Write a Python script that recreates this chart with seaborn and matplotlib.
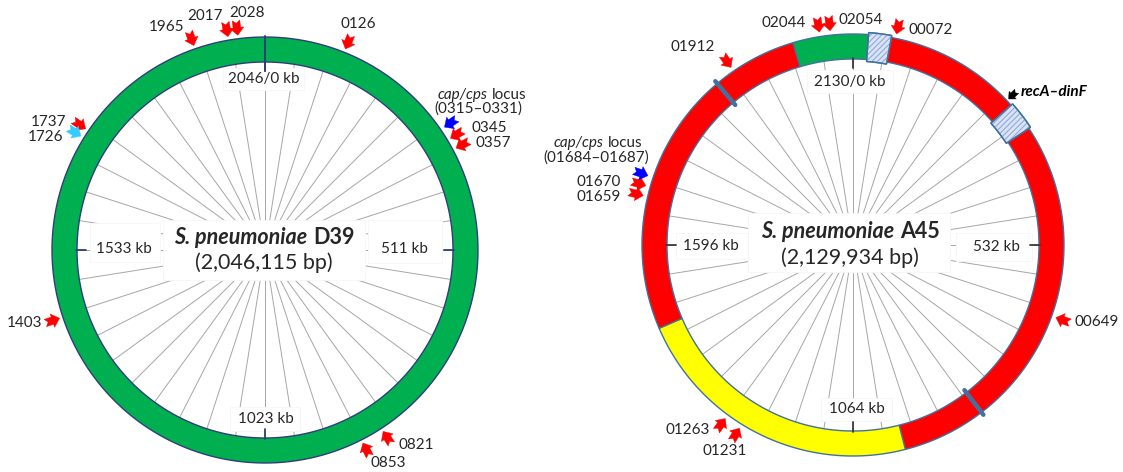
import numpy as np
import matplotlib
matplotlib.use("Agg")
import matplotlib.pyplot as plt
import seaborn as sns
from matplotlib.patches import Polygon, Rectangle

sns.set_theme(style="white")
plt.rcParams['font.family'] = ['Lato', 'DejaVu Sans']
plt.rcParams['hatch.linewidth'] = 0.8

# ---------------- data ----------------
d39_size_kb = 2046
d39_tick_labels = ["2046/0 kb", "511 kb", "1023 kb", "1533 kb"]
d39_gene_labels = ["0126", "0345", "0357", "0821", "0853", "1403", "1737", "1726", "1965", "2017", "2028"]
d39_gene_kb = [124, 335, 352, 835, 870, 1430, 1728, 1715, 1937, 1990, 2005]
d39_gene_kind = ["red", "red", "red", "red", "red", "red", "red", "cyan", "red", "red", "red"]
d39_cap_kb = 316

a45_size_kb = 2130
a45_tick_labels = ["2130/0 kb", "532 kb", "1064 kb", "1596 kb"]
a45_gene_labels = ["00072", "00649", "01231", "01263", "01659", "01670", "01912", "02044", "02054"]
a45_gene_kb = [69, 649, 1253, 1280, 1676, 1692, 1926, 2077, 2094]
a45_cap_kb = 1708
a45_recA_kb = 277
# ring segments (start kb, end kb, kind)
a45_seg_start = [2032, 62, 334, 980, 1460]
a45_seg_end = [25 + 2130, 287, 980, 1460, 2032]
a45_seg_kind = ["green", "red", "red", "yellow", "red"]
a45_hatch_start = [25, 287]
a45_hatch_end = [62, 334]
a45_marker_kb = [843, 1893]

# ---------------- layout ----------------
W, H = 1123, 472
fig = plt.figure(figsize=(W / 100, H / 100), dpi=100)
ax = fig.add_axes([0, 0, 1, 1])
ax.set_xlim(0, W)
ax.set_ylim(H, 0)
ax.set_aspect('equal')
ax.axis('off')
renderer = fig.canvas.get_renderer()

TXT = '#262626'
FS = 11
FT = 15.5
COL = {"red": "#FF0000", "green": "#00B050", "yellow": "#FFFF00",
       "cyan": "#33CCFF", "blue": "#0000FF", "black": "#000000"}


def polar(cx, cy, r, a):
    t = np.deg2rad(a)
    return cx + r * np.sin(t), cy - r * np.cos(t)


def arc_poly(cx, cy, r1, r2, a1, a2, n=120):
    ang = np.linspace(a1, a2, n)
    outer = [polar(cx, cy, r2, a) for a in ang]
    inner = [polar(cx, cy, r1, a) for a in ang[::-1]]
    return np.array(outer + inner)


def arrow(cx, cy, r, a, color, scale=1.0):
    t = np.deg2rad(a)
    u = np.array([-np.sin(t), np.cos(t)])   # inward
    v = np.array([np.cos(t), np.sin(t)])
    loc = np.array([(7.5, 0), (0, 7), (0, 3.8), (-7.5, 3.8), (-4.5, 0),
                    (-7.5, -3.8), (0, -3.8), (0, -7)]) * scale
    px, py = polar(cx, cy, r, a)
    pts = [(px + p * u[0] + q * v[0], py + p * u[1] + q * v[1]) for p, q in loc]
    ax.add_patch(Polygon(pts, closed=True, facecolor=color, edgecolor=color,
                         lw=0.3, zorder=6))


def mixed(x, y, parts, fs, ha='center', gap=None, color=TXT):
    texts, widths = [], []
    for s, kw in parts:
        t = ax.text(0, y, s, fontsize=fs, va='center', ha='left', color=color,
                    zorder=8, **kw)
        widths.append(t.get_window_extent(renderer=renderer).width)
        texts.append(t)
    if gap is None:
        gap = 0.27 * fs * 100 / 72
    total = sum(widths) + gap * (len(parts) - 1)
    x0 = x - total / 2 if ha == 'center' else x
    for t, w in zip(texts, widths):
        t.set_x(x0)
        x0 += w + gap


def white_box(x0, y0, x1, y1):
    ax.add_patch(Rectangle((x0, y0), x1 - x0, y1 - y0, facecolor='white',
                           edgecolor='#F6F6F6', lw=0.6, zorder=4))


def label(x, y, s, fs=FS, **kw):
    ax.text(x, y, s, fontsize=fs, ha='center', va='center', color=TXT, zorder=8, **kw)


def spokes(cx, cy, r_in, dark):
    for k in range(40):
        a = k * 9
        x1, y1 = polar(cx, cy, r_in, a)
        x2, y2 = polar(cx, cy, 28, a)
        ax.plot([x1, x2], [y1, y2], color='#A6A6A6', lw=0.7, zorder=2)
    for a in (0, 90, 180, 270):
        x1, y1 = polar(cx, cy, r_in + 1, a)
        x2, y2 = polar(cx, cy, r_in - 9, a)
        ax.plot([x1, x2], [y1, y2], color=dark, lw=1.3, zorder=5)


# ================= left: D39 =================
cx1, cy1, ri1, ro1 = 265, 250, 188, 213
EDGE1 = '#2F3E7A'
spokes(cx1, cy1, ri1, EDGE1)
ax.add_patch(Polygon(arc_poly(cx1, cy1, ri1, ro1, 0, 360, 400), closed=True,
                     facecolor=COL["green"], edgecolor='none', zorder=3))
th = np.linspace(0, 360, 400)
for r in (ri1, ro1):
    pts = np.array([polar(cx1, cy1, r, a) for a in th])
    ax.plot(pts[:, 0], pts[:, 1], color=EDGE1, lw=1.0, zorder=3.5)
x1, y1 = polar(cx1, cy1, ro1 + 1, 0)
x2, y2 = polar(cx1, cy1, ri1 - 9, 0)
ax.plot([x1, x2], [y1, y2], color=EDGE1, lw=1.4, zorder=5)

for kb, kind in zip(d39_gene_kb, d39_gene_kind):
    arrow(cx1, cy1, ro1 + 11, kb / d39_size_kb * 360, COL[kind])
arrow(cx1, cy1, ro1 + 12, d39_cap_kb / d39_size_kb * 360, COL["blue"])

d39_label_xy = {"0126": (358, 24), "0345": (489, 128), "0357": (493, 143),
                "0821": (416, 445), "0853": (388, 463), "1403": (25, 323),
                "1737": (49, 122), "1726": (46, 137), "1965": (167, 27),
                "2017": (205, 16), "2028": (247, 13)}
for lab in d39_gene_labels:
    x, y = d39_label_xy[lab]
    label(x, y, lab)
mixed(482, 95, [("cap/cps", dict(style='italic')), ("locus", {})], FS)
label(478, 109, "(0315\u20130331)")

# tick labels with white boxes
white_box(223, 68, 304, 90)
label(264, 79, d39_tick_labels[0])
white_box(368, 220, 442, 263)
label(404, 249, d39_tick_labels[1])
white_box(230, 407, 300, 431)
label(266, 419, d39_tick_labels[2])
white_box(90, 223, 160, 262)
label(124, 249, d39_tick_labels[3])
white_box(163, 220, 365, 280)
mixed(264, 237, [("S. pneumoniae", dict(style='italic', weight='bold')),
                 ("D39", dict(weight='bold'))], FT)
label(264, 263, "(2,046,115 bp)", fs=FT)

# ================= right: A45 =================
cx2, cy2, ri2, ro2 = 853, 245, 186, 211
EDGE2 = '#41719C'
spokes(cx2, cy2, ri2, '#3A3A3A')
for s, e, kind in zip(a45_seg_start, a45_seg_end, a45_seg_kind):
    a1 = s / a45_size_kb * 360
    a2 = e / a45_size_kb * 360
    if a2 < a1:
        a2 += 360
    ax.add_patch(Polygon(arc_poly(cx2, cy2, ri2, ro2, a1, a2), closed=True,
                         facecolor=COL[kind], edgecolor=EDGE2, lw=1.0, zorder=3))
for s, e in zip(a45_hatch_start, a45_hatch_end):
    a1 = s / a45_size_kb * 360
    a2 = e / a45_size_kb * 360
    poly = arc_poly(cx2, cy2, ri2 - 2, ro2 + 2, a1, a2, 30)
    ax.add_patch(Polygon(poly, closed=True, facecolor='#DAE3F3', edgecolor=EDGE2,
                         lw=1.0, zorder=3.6))
    ax.add_patch(Polygon(poly, closed=True, facecolor='none', edgecolor='#8FAADC',
                         hatch='//////', lw=0, zorder=3.7))
    ax.add_patch(Polygon(poly, closed=True, facecolor='none', edgecolor=EDGE2,
                         lw=1.0, zorder=3.8))
for kb in a45_marker_kb:
    a = kb / a45_size_kb * 360
    x1, y1 = polar(cx2, cy2, ri2 - 3, a)
    x2, y2 = polar(cx2, cy2, ro2 + 3, a)
    ax.plot([x1, x2], [y1, y2], color=EDGE2, lw=3.2, solid_capstyle='round', zorder=3.9)

for kb in a45_gene_kb:
    arrow(cx2, cy2, ro2 + 12, kb / a45_size_kb * 360, COL["red"])
arrow(cx2, cy2, ro2 + 13, a45_cap_kb / a45_size_kb * 360, COL["blue"])
arrow(cx2, cy2, ro2 + 8, a45_recA_kb / a45_size_kb * 360, COL["black"], scale=0.75)

a45_label_xy = {"00072": (931, 30), "00649": (1097, 322), "01231": (725, 451),
                "01263": (688, 430), "01659": (599, 197), "01670": (599, 182),
                "01912": (693, 47), "02044": (784, 23), "02054": (861, 20)}
for lab in a45_gene_labels:
    x, y = a45_label_xy[lab]
    label(x, y, lab)
mixed(598, 143, [("cap/cps", dict(style='italic')), ("locus", {})], FS)
label(596, 158, "(01684\u201301687)")
ax.text(1021, 92, "recA\u2013dinF", fontsize=FS, ha='left', va='center',
        style='italic', weight='bold', color='#000000', zorder=8)

white_box(807, 70, 893, 93)
label(850, 82, a45_tick_labels[0])
white_box(956, 233, 1032, 261)
label(996, 247, a45_tick_labels[1])
white_box(821, 398, 892, 421)
label(857, 409, a45_tick_labels[2])
white_box(676, 233, 748, 259)
label(711, 246, a45_tick_labels[3])
white_box(748, 213, 950, 272)
mixed(850, 232, [("S. pneumoniae", dict(style='italic', weight='bold')),
                 ("A45", dict(weight='bold'))], FT)
label(850, 258, "(2,129,934 bp)", fs=FT)

fig.savefig("out.png", dpi=100, facecolor='white')
